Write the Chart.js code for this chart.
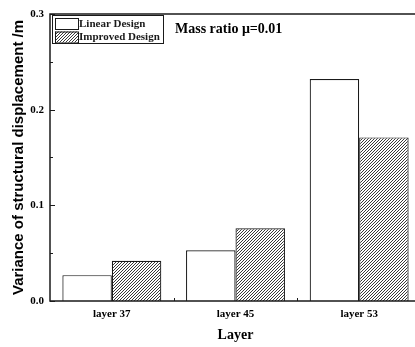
<!DOCTYPE html>
<html>
<head>
<meta charset="utf-8">
<script src="https://cdn.jsdelivr.net/npm/chart.js@4/dist/chart.umd.min.js"></script>
<style>
  html, body { margin: 0; padding: 0; background: #fff; overflow: hidden; }
  #wrap { width: 415px; height: 347px; overflow: hidden; }
</style>
</head>
<body>
<div id="wrap"><canvas id="chart" width="423" height="347"></canvas></div>
<script>
// data
const layers        = ["layer 37", "layer 45", "layer 53"];
const linearDesign  = [0.027, 0.053, 0.232];
const improvedDesign = [0.042, 0.076, 0.171];
const seriesNames   = ["Linear Design", "Improved Design"];
const yTicks        = [0, 0.1, 0.2, 0.3];

const ink = "#1a1a1a";
const serifBold = "bold {s}px 'Liberation Serif', 'Times New Roman', serif";
const font = s => serifBold.replace("{s}", s);

// "////" hatch fill
function makeHatch() {
    const c = document.createElement("canvas");
    c.width = 3; c.height = 3;
    const g = c.getContext("2d");
    g.fillStyle = "#fff";
    g.fillRect(0, 0, 3, 3);
    g.strokeStyle = "#222";
    g.lineWidth = 0.9;
    g.beginPath();
    g.moveTo(-1, 4); g.lineTo(4, -1);
    g.moveTo(-4, 4); g.lineTo(1, -1);
    g.moveTo(2, 4); g.lineTo(7, -1);
    g.stroke();
    return g.createPattern(c, "repeat");
}
const hatch = makeHatch();

// frame, inward ticks, legend box and annotation
const decor = {
    id: "decor",
    afterDraw(chart) {
        const { ctx, chartArea: a, scales: { x, y } } = chart;
        ctx.save();
        ctx.strokeStyle = ink;
        ctx.lineWidth = 1.5;
        ctx.beginPath();
        ctx.moveTo(a.right + 2, a.top);
        ctx.lineTo(a.left, a.top);
        ctx.lineTo(a.left, a.bottom);
        ctx.lineTo(a.right + 2, a.bottom);
        ctx.stroke();

        ctx.lineWidth = 1;
        ctx.beginPath();
        for (let v = 0.05; v < 0.3; v += 0.1) {
            const py = Math.round(y.getPixelForValue(v)) + 0.5;
            ctx.moveTo(a.left, py); ctx.lineTo(a.left + 3, py);
        }
        yTicks.forEach(v => {
            const py = Math.round(y.getPixelForValue(v)) + 0.5;
            ctx.moveTo(a.left, py); ctx.lineTo(a.left + 5, py);
        });
        for (let i = 0; i < layers.length - 1; i++) {
            const px = Math.round((x.getPixelForValue(i) + x.getPixelForValue(i + 1)) / 2) + 0.5;
            ctx.moveTo(px, a.bottom); ctx.lineTo(px, a.bottom - 3);
        }
        ctx.stroke();

        // legend
        const lx = a.left + 2, ly = a.top + 1;
        ctx.fillStyle = "#fff";
        ctx.fillRect(lx, ly, 111, 28);
        ctx.lineWidth = 1;
        ctx.strokeRect(lx + 0.5, ly + 0.5, 111, 28);
        const fills = ["#fff", hatch];
        seriesNames.forEach((name, i) => {
            const sy = ly + 3 + i * 13.5;
            ctx.fillStyle = fills[i];
            ctx.fillRect(lx + 3, sy, 23, 11);
            ctx.strokeStyle = ink;
            ctx.strokeRect(lx + 3.5, sy + 0.5, 23, 11);
            ctx.fillStyle = ink;
            ctx.font = font(11);
            ctx.textBaseline = "middle";
            ctx.textAlign = "left";
            ctx.fillText(name, lx + 27, sy + 6);
        });

        ctx.font = font(14);
        ctx.fillStyle = "#000";
        ctx.textBaseline = "middle";
        ctx.fillText("Mass ratio \u03bc=0.01", 175, 29);
        ctx.restore();
    }
};

new Chart(document.getElementById("chart"), {
    type: "bar",
    data: {
        labels: layers,
        datasets: [
            { label: seriesNames[0], data: linearDesign, backgroundColor: "#fff",
              borderColor: ink, borderWidth: 1.2, borderSkipped: "bottom" },
            { label: seriesNames[1], data: improvedDesign, backgroundColor: hatch,
              borderColor: ink, borderWidth: 1.2, borderSkipped: "bottom" }
        ]
    },
    options: {
        responsive: false,
        animation: false,
        devicePixelRatio: 1,
        layout: { padding: { top: 14, right: 2, left: 0, bottom: 0 } },
        plugins: { legend: { display: false }, tooltip: { enabled: false } },
        datasets: { bar: { categoryPercentage: 0.8, barPercentage: 1.0 } },
        scales: {
            x: {
                grid: { display: false, drawTicks: false },
                border: { display: false },
                afterFit(axis) { axis.height = 46; },
                ticks: { color: "#000", font: { family: "'Liberation Serif', serif", weight: "bold", size: 11 }, padding: 7 },
                title: { display: true, text: "Layer", color: "#000",
                         font: { family: "'Liberation Serif', serif", weight: "bold", size: 14 },
                         padding: { top: 0, bottom: 3 } }
            },
            y: {
                min: 0, max: 0.3,
                grid: { display: false, drawTicks: false },
                border: { display: false },
                afterFit(axis) { axis.width = 50; },
                afterBuildTicks(axis) { axis.ticks = yTicks.map(v => ({ value: v })); },
                ticks: { color: "#000", padding: 6,
                         font: { family: "'Liberation Serif', serif", weight: "bold", size: 11 },
                         callback: v => v.toFixed(1) },
                title: { display: true, text: "Variance of structural displacement /m", color: "#000",
                         font: { family: "'Liberation Sans', Arial, sans-serif", weight: "bold", size: 15 },
                         padding: { top: 10, bottom: 0 } }
            }
        }
    },
    plugins: [decor]
});
</script>
</body>
</html>
